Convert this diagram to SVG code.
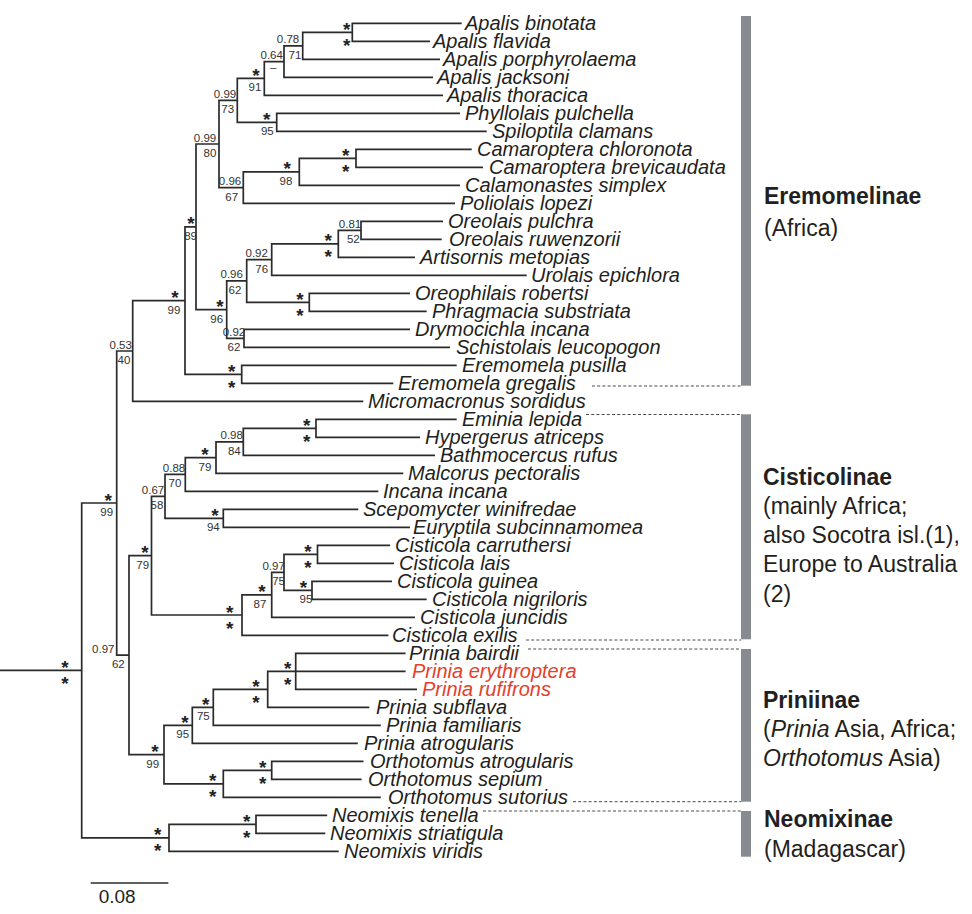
<svg xmlns="http://www.w3.org/2000/svg" width="972" height="914" viewBox="0 0 972 914">
<style>
.br{fill:none;stroke:#2b2b2b;stroke-width:1.7}
.dash{fill:none;stroke:#4a4a4a;stroke-width:1;stroke-dasharray:3,2.2}
.bar{fill:#878b90}
.sp{font-family:"Liberation Sans",Arial,sans-serif;font-style:italic;font-size:20px;fill:#231f20}
.red{fill:#e5402a}
.n{font-family:"Liberation Sans",Arial,sans-serif;font-size:11.5px;fill:#333;text-anchor:middle}
.st{font-family:"Liberation Sans",Arial,sans-serif;font-size:19px;font-weight:bold;fill:#222;text-anchor:middle}
.gl{font-family:"Liberation Sans",Arial,sans-serif;font-size:23px;fill:#231f20}
.gb{font-weight:bold}
.it{font-style:italic}
</style>
<rect width="972" height="914" fill="#fff"/>
<g id="connectors">
<path class="br" d="M0,670.4 H81.7"/>
<path class="br" d="M461.7,23.3 H352.3 V41.3 H430"/>
<path class="br" d="M352.3,32.3 H302.7 V59.3 H440"/>
<path class="br" d="M302.7,45.8 H284 V77.3 H433"/>
<path class="br" d="M284,61.6 H264.3 V95.3 H443"/>
<path class="br" d="M460,113.3 H276.7 V131.3 H486.7"/>
<path class="br" d="M264.3,78.4 H237.3 V122.3 H276.7"/>
<path class="br" d="M471.7,149.3 H356 V167.3 H483"/>
<path class="br" d="M356,158.3 H299.3 V185.3 H460"/>
<path class="br" d="M299.3,171.8 H243.3 V203.3 H455"/>
<path class="br" d="M237.3,100.4 H219 V187.6 H243.3"/>
<path class="br" d="M443,221.3 H361 V239.3 H441.7"/>
<path class="br" d="M361,230.3 H338.3 V257.3 H415"/>
<path class="br" d="M338.3,243.8 H271.7 V275.3 H526.7"/>
<path class="br" d="M410,293.3 H309.3 V311.3 H426.7"/>
<path class="br" d="M271.7,259.6 H246.7 V302.3 H309.3"/>
<path class="br" d="M410,329.3 H244 V347.3 H450"/>
<path class="br" d="M246.7,280.9 H226.7 V338.3 H244"/>
<path class="br" d="M219,144 H196 V309.6 H226.7"/>
<path class="br" d="M456.7,365.3 H241.7 V383.3 H393.3"/>
<path class="br" d="M196,226.8 H185 V374.3 H241.7"/>
<path class="br" d="M185,300.6 H132.7 V401.3 H363.3"/>
<path class="br" d="M132.7,351 H116.7 V655.1 H129"/>
<path class="br" d="M456.7,419.3 H316 V437.3 H420"/>
<path class="br" d="M316,428.3 H243.3 V455.3 H435"/>
<path class="br" d="M243.3,441.8 H216 V473.3 H403.3"/>
<path class="br" d="M216,457.6 H185.3 V491.3 H378.3"/>
<path class="br" d="M358.3,509.3 H223.3 V527.3 H410"/>
<path class="br" d="M185.3,474.4 H165 V518.3 H223.3"/>
<path class="br" d="M390,545.3 H317.5 V563.3 H394"/>
<path class="br" d="M392,581.3 H312 V599.3 H426.7"/>
<path class="br" d="M317.5,554.3 H284 V590.3 H312"/>
<path class="br" d="M284,572.3 H271.7 V617.3 H415"/>
<path class="br" d="M271.7,594.8 H242 V635.3 H388.4"/>
<path class="br" d="M165,496.4 H151.5 V615 H242"/>
<path class="br" d="M405.6,653.3 H295.7 V689.3 H417 M295.7,671.3 H405.6"/>
<path class="br" d="M295.7,671.3 H267.7 V707.3 H369.3"/>
<path class="br" d="M267.7,689.3 H213.3 V725.3 H380.8"/>
<path class="br" d="M213.3,707.3 H192.3 V743.3 H357.8"/>
<path class="br" d="M363.5,761.3 H271.7 V779.3 H361.6"/>
<path class="br" d="M271.7,770.3 H223.3 V797.3 H380.8"/>
<path class="br" d="M192.3,725.3 H164 V783.8 H223.3"/>
<path class="br" d="M151.5,555.7 H129 V754.6 H164"/>
<path class="br" d="M327.2,815.3 H256 V833.3 H325.3"/>
<path class="br" d="M256,824.3 H169 V851.3 H338.7"/>
<path class="br" d="M116.7,503 H81.7 V837.8 H169"/>
<path class="dash" d="M592,386 H741 M586,414.5 H741 M526,640 H741 M528,649 H741 M573,801.7 H741 M483,811 H741"/>
</g>
<g id="leaves">
<g id="t01"><text class="sp" x="465" y="30.3">Apalis binotata</text></g>
<g id="t02"><text class="sp" x="433" y="48.3">Apalis flavida</text></g>
<g id="t03"><text class="sp" x="443" y="66.3">Apalis porphyrolaema</text></g>
<g id="t04"><text class="sp" x="437" y="84.3">Apalis jacksoni</text></g>
<g id="t05"><text class="sp" x="447" y="102.3">Apalis thoracica</text></g>
<g id="t06"><text class="sp" x="465" y="120.3">Phyllolais pulchella</text></g>
<g id="t07"><text class="sp" x="492" y="138.3">Spiloptila clamans</text></g>
<g id="t08"><text class="sp" x="477" y="156.3">Camaroptera chloronota</text></g>
<g id="t09"><text class="sp" x="489" y="174.3">Camaroptera brevicaudata</text></g>
<g id="t10"><text class="sp" x="465" y="192.3">Calamonastes simplex</text></g>
<g id="t11"><text class="sp" x="460" y="210.3">Poliolais lopezi</text></g>
<g id="t12"><text class="sp" x="448" y="228.3">Oreolais pulchra</text></g>
<g id="t13"><text class="sp" x="449" y="246.3">Oreolais ruwenzorii</text></g>
<g id="t14"><text class="sp" x="420" y="264.3">Artisornis metopias</text></g>
<g id="t15"><text class="sp" x="531" y="282.3">Urolais epichlora</text></g>
<g id="t16"><text class="sp" x="415" y="300.3">Oreophilais robertsi</text></g>
<g id="t17"><text class="sp" x="432" y="318.3">Phragmacia substriata</text></g>
<g id="t18"><text class="sp" x="415" y="336.3">Drymocichla incana</text></g>
<g id="t19"><text class="sp" x="456" y="354.3">Schistolais leucopogon</text></g>
<g id="t20"><text class="sp" x="462" y="372.3">Eremomela pusilla</text></g>
<g id="t21"><text class="sp" x="398" y="390.3">Eremomela gregalis</text></g>
<g id="t22"><text class="sp" x="368" y="408.3">Micromacronus sordidus</text></g>
<g id="t23"><text class="sp" x="462" y="426.3">Eminia lepida</text></g>
<g id="t24"><text class="sp" x="425" y="444.3">Hypergerus atriceps</text></g>
<g id="t25"><text class="sp" x="440" y="462.3">Bathmocercus rufus</text></g>
<g id="t26"><text class="sp" x="408" y="480.3">Malcorus pectoralis</text></g>
<g id="t27"><text class="sp" x="383" y="498.3">Incana incana</text></g>
<g id="t28"><text class="sp" x="363" y="516.3">Scepomycter winifredae</text></g>
<g id="t29"><text class="sp" x="413" y="534.3">Euryptila subcinnamomea</text></g>
<g id="t30"><text class="sp" x="395" y="552.3">Cisticola carruthersi</text></g>
<g id="t31"><text class="sp" x="399" y="570.3">Cisticola lais</text></g>
<g id="t32"><text class="sp" x="397" y="588.3">Cisticola guinea</text></g>
<g id="t33"><text class="sp" x="432" y="606.3">Cisticola nigriloris</text></g>
<g id="t34"><text class="sp" x="420" y="624.3">Cisticola juncidis</text></g>
<g id="t35"><text class="sp" x="392" y="642.3">Cisticola exilis</text></g>
<g id="t36"><text class="sp" x="409" y="660.3">Prinia bairdii</text></g>
<g id="t37"><text class="sp red" x="412" y="678.3">Prinia erythroptera</text></g>
<g id="t38"><text class="sp red" x="422" y="696.3">Prinia rufifrons</text></g>
<g id="t39"><text class="sp" x="376" y="714.3">Prinia subflava</text></g>
<g id="t40"><text class="sp" x="386" y="732.3">Prinia familiaris</text></g>
<g id="t41"><text class="sp" x="364" y="750.3">Prinia atrogularis</text></g>
<g id="t42"><text class="sp" x="370" y="768.3">Orthotomus atrogularis</text></g>
<g id="t43"><text class="sp" x="368" y="786.3">Orthotomus sepium</text></g>
<g id="t44"><text class="sp" x="388" y="804.3">Orthotomus sutorius</text></g>
<g id="t45"><text class="sp" x="332" y="822.3">Neomixis tenella</text></g>
<g id="t46"><text class="sp" x="330" y="840.3">Neomixis striatigula</text></g>
<g id="t47"><text class="sp" x="344" y="858.3">Neomixis viridis</text></g>
</g>
<g id="support">
<g id="nA"><text class="st" x="346.7" y="35.8">*</text><text class="st" x="346.7" y="51.8">*</text></g>
<g id="nA2"><text class="n" x="288" y="43.3">0.78</text><text class="n" x="295" y="58.8">71</text></g>
<g id="nB"><text class="n" x="271.7" y="59.1">0.64</text><text class="n" x="273.3" y="70.6">–</text></g>
<g id="nC"><text class="st" x="256" y="81.9">*</text><text class="n" x="255" y="91.4">91</text></g>
<g id="nP1"><text class="st" x="266.7" y="125.8">*</text><text class="n" x="267.3" y="135.3">95</text></g>
<g id="nD"><text class="n" x="225" y="97.9">0.99</text><text class="n" x="227.7" y="113.4">73</text></g>
<g id="nE"><text class="st" x="345.7" y="161.8">*</text><text class="st" x="345.7" y="177.8">*</text></g>
<g id="nF"><text class="st" x="287.3" y="175.3">*</text><text class="n" x="286" y="184.8">98</text></g>
<g id="nG"><text class="n" x="230" y="185.1">0.96</text><text class="n" x="231.7" y="200.6">67</text></g>
<g id="nH"><text class="n" x="205" y="141.5">0.99</text><text class="n" x="210" y="157">80</text></g>
<g id="nI"><text class="n" x="350" y="227.8">0.81</text><text class="n" x="353.3" y="243.3">52</text></g>
<g id="nJ"><text class="st" x="328.3" y="247.3">*</text><text class="st" x="328.3" y="263.3">*</text></g>
<g id="nK"><text class="n" x="256.7" y="257.1">0.92</text><text class="n" x="261.7" y="272.6">76</text></g>
<g id="nL"><text class="st" x="300" y="305.8">*</text><text class="st" x="300" y="321.8">*</text></g>
<g id="nM"><text class="n" x="231.7" y="278.4">0.96</text><text class="n" x="235" y="293.9">62</text></g>
<g id="nN"><text class="n" x="234" y="335.8">0.92</text><text class="n" x="234" y="351.3">62</text></g>
<g id="nO"><text class="st" x="220" y="313.1">*</text><text class="n" x="216.7" y="322.6">96</text></g>
<g id="nQ"><text class="st" x="191" y="230.3">*</text><text class="n" x="190.6" y="239.8" font-size="10.5">89</text></g>
<g id="nS"><text class="st" x="231.7" y="377.8">*</text><text class="st" x="231.7" y="393.8">*</text></g>
<g id="nR"><text class="st" x="175" y="304.1">*</text><text class="n" x="174" y="313.6">99</text></g>
<g id="nT"><text class="n" x="120.7" y="348.5">0.53</text><text class="n" x="124" y="364">40</text></g>
<g id="nV"><text class="st" x="108.3" y="506.5">*</text><text class="n" x="106.7" y="516">99</text></g>
<g id="na"><text class="st" x="306.7" y="431.8">*</text><text class="st" x="306.7" y="447.8">*</text></g>
<g id="nb"><text class="n" x="231.7" y="439.3">0.98</text><text class="n" x="234.3" y="454.8">84</text></g>
<g id="nc"><text class="st" x="205" y="461.1">*</text><text class="n" x="205" y="470.6">79</text></g>
<g id="nd"><text class="n" x="174" y="471.9">0.88</text><text class="n" x="175" y="487.4">70</text></g>
<g id="ne"><text class="st" x="215" y="521.8">*</text><text class="n" x="213.3" y="531.3">94</text></g>
<g id="nf"><text class="n" x="153" y="493.9">0.67</text><text class="n" x="157" y="509.4">58</text></g>
<g id="ng"><text class="st" x="308" y="557.8">*</text><text class="st" x="308" y="573.8">*</text></g>
<g id="nh"><text class="st" x="303.5" y="593.8">*</text><text class="n" x="306" y="603.3">95</text></g>
<g id="ni"><text class="n" x="273.6" y="569.8">0.97</text><text class="n" x="278.6" y="585.3">75</text></g>
<g id="nj"><text class="st" x="262" y="598.3">*</text><text class="n" x="260" y="607.8">87</text></g>
<g id="nk"><text class="st" x="229.6" y="618.5">*</text><text class="st" x="229.6" y="634.5">*</text></g>
<g id="nl"><text class="st" x="145" y="559.2">*</text><text class="n" x="142.7" y="568.7">79</text></g>
<g id="nt"><text class="n" x="103.3" y="652.6">0.97</text><text class="n" x="118.3" y="668.1">62</text></g>
<g id="nm"><text class="st" x="287.7" y="674.8">*</text><text class="st" x="287.7" y="690.8">*</text></g>
<g id="nn"><text class="st" x="256" y="692.8">*</text><text class="st" x="256" y="708.8">*</text></g>
<g id="no"><text class="st" x="205.7" y="710.8">*</text><text class="n" x="203.3" y="720.3">75</text></g>
<g id="np"><text class="st" x="185" y="728.8">*</text><text class="n" x="182.7" y="738.3">95</text></g>
<g id="nr"><text class="st" x="262.7" y="773.8">*</text><text class="st" x="262.7" y="789.8">*</text></g>
<g id="ns"><text class="st" x="212.7" y="787.3">*</text><text class="st" x="212.7" y="803.3">*</text></g>
<g id="nq"><text class="st" x="155" y="758.1">*</text><text class="n" x="152.7" y="767.6">99</text></g>
<g id="nv"><text class="st" x="246.7" y="827.8">*</text><text class="st" x="246.7" y="843.8">*</text></g>
<g id="nw"><text class="st" x="157.7" y="841.3">*</text><text class="st" x="157.7" y="857.3">*</text></g>
<g id="nu"><text class="st" x="65" y="673.9">*</text><text class="st" x="65" y="689.9">*</text></g>
</g>
<g id="groups">
<g id="eremomelinae"><rect class="bar" x="741" y="16" width="10" height="369.7"/><text class="gl gb" x="764" y="204.3">Eremomelinae</text><text class="gl" x="764" y="236">(Africa)</text></g>
<g id="cisticolinae"><rect class="bar" x="741" y="414.3" width="10" height="225"/><text class="gl gb" x="763" y="485">Cisticolinae</text><text class="gl" x="763" y="514">(mainly Africa;</text><text class="gl" x="763" y="543">also Socotra isl.(1),</text><text class="gl" x="763" y="572">Europe to Australia</text><text class="gl" x="763" y="601.7">(2)</text></g>
<g id="priniinae"><rect class="bar" x="741" y="649" width="10" height="152.7"/><text class="gl gb" x="763" y="708.3">Priniinae</text><text class="gl" x="763" y="737.3">(<tspan class="it">Prinia</tspan> Asia, Africa;</text><text class="gl" x="763" y="766"><tspan class="it">Orthotomus</tspan> Asia)</text></g>
<g id="neomixinae"><rect class="bar" x="741" y="811" width="10" height="45.7"/><text class="gl gb" x="764" y="827.3">Neomixinae</text><text class="gl" x="764" y="857.3">(Madagascar)</text></g>
</g>
<g id="scale"><path class="br" d="M90.7,883 H168.4"/><text x="98.7" y="903" font-family="Liberation Sans, Arial, sans-serif" font-size="19" fill="#231f20">0.08</text></g>
</svg>
